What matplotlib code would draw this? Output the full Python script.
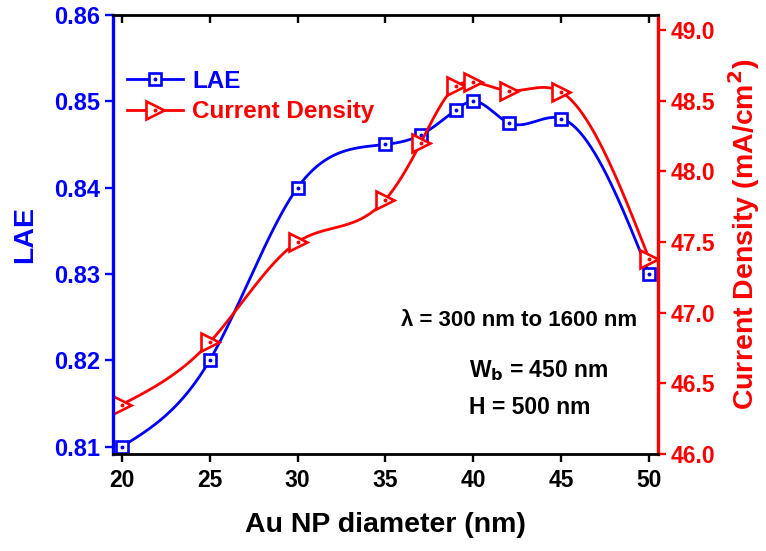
import numpy as np
import matplotlib
matplotlib.use("Agg")
import matplotlib.pyplot as plt
from matplotlib.lines import Line2D
from matplotlib.legend_handler import HandlerTuple

plt.rcParams["font.family"] = ["Liberation Sans", "DejaVu Sans"]
plt.rcParams["font.weight"] = "bold"

diameter = [20, 25, 30, 35, 37, 39, 40, 42, 45, 50]
lae = [0.810, 0.820, 0.840, 0.845, 0.8461, 0.849, 0.850, 0.8475, 0.848, 0.830]
current = [46.35, 46.79, 47.50, 47.80, 48.20, 48.60, 48.63, 48.57, 48.56, 47.38]

BLUE = "#0000ff"
RED = "#ff0000"


def natural_spline(x, y, n=400):
    # natural cubic spline, drawn through the measured points only
    x = np.asarray(x, float)
    y = np.asarray(y, float)
    k = len(x)
    h = np.diff(x)
    A = np.zeros((k, k))
    b = np.zeros(k)
    A[0, 0] = A[-1, -1] = 1
    for i in range(1, k - 1):
        A[i, i - 1] = h[i - 1]
        A[i, i] = 2 * (h[i - 1] + h[i])
        A[i, i + 1] = h[i]
        b[i] = 3 * ((y[i + 1] - y[i]) / h[i] - (y[i] - y[i - 1]) / h[i - 1])
    c = np.linalg.solve(A, b)
    xs = np.linspace(x[0], x[-1], n)
    idx = np.clip(np.searchsorted(x, xs) - 1, 0, k - 2)
    dx = xs - x[idx]
    bb = (y[idx + 1] - y[idx]) / h[idx] - h[idx] * (2 * c[idx] + c[idx + 1]) / 3
    dd = (c[idx + 1] - c[idx]) / (3 * h[idx])
    ys = y[idx] + bb * dx + c[idx] * dx ** 2 + dd * dx ** 3
    return xs, ys


fig = plt.figure(figsize=(7.66, 5.51), dpi=100)
ax = fig.add_axes([0.1475, 0.176, 0.7115, 0.797])
ax2 = ax.twinx()

LW = 2.0
sq = dict(ls="none", marker="s", ms=8.5, mfc="white", mec=BLUE, mew=1.9)
tri = dict(ls="none", marker=">", ms=13, mfc="white", mec=RED, mew=1.9)

xs, ys = natural_spline(diameter, lae)
ax.plot(xs, ys, color=BLUE, lw=LW)
ax.plot(diameter, lae, **sq)
ax.plot(diameter, lae, ls="none", marker="o", ms=1.8, color=BLUE)

xs, ys = natural_spline(diameter, current)
ax2.plot(xs, ys, color=RED, lw=LW)
ax2.plot(diameter, current, **tri)
ax2.plot(diameter, current, ls="none", marker="o", ms=1.8, color=RED)

ax.set_xlim(19.5, 50.5)
ax.set_ylim(0.80915, 0.86)
ax2.set_ylim(46.0, 49.106)
ax.set_xticks([20, 25, 30, 35, 40, 45, 50])
ax.set_yticks([0.81, 0.82, 0.83, 0.84, 0.85, 0.86])
rticks = [46.0, 46.5, 47.0, 47.5, 48.0, 48.5, 49.0]
ax2.set_yticks(rticks)
ax2.set_yticklabels([f"{v:.1f}" for v in rticks])

ax.tick_params(axis="x", direction="out", length=6, width=1.7,
               labelsize=16.5, top=False, pad=5)
ax.tick_params(axis="y", colors=BLUE, length=6, width=1.7, labelsize=17, pad=3)
ax2.tick_params(axis="y", colors=RED, length=6, width=1.7, labelsize=16.5, pad=3)
# top ticks pointing inward, drawn on the twin's x axis
ax2.xaxis.set_visible(True)
ax2.tick_params(axis="x", top=True, bottom=False, labelbottom=False, labeltop=False,
                direction="in", length=6, width=1.7)

for s in ("top", "bottom"):
    ax2.spines[s].set_linewidth(2.0)
    ax2.spines[s].set_color("black")
ax2.spines["left"].set_color(BLUE)
ax2.spines["left"].set_linewidth(2.4)
ax2.spines["right"].set_color(RED)
ax2.spines["right"].set_linewidth(2.4)
for s in ax.spines.values():
    s.set_visible(False)

ax.set_xlabel("Au NP diameter (nm)", fontsize=20.5, fontweight="bold", labelpad=14)
ax.set_ylabel("LAE", fontsize=20.5, fontweight="bold", color=BLUE, labelpad=12)
ax2.set_ylabel("Current Density (mA/cm$^\\mathbf{2}$)", fontsize=20.5,
               fontweight="bold", color=RED, labelpad=8)

h_lae = (Line2D([], [], color=BLUE, lw=LW, **{k: v for k, v in sq.items() if k != "ls"}),
         Line2D([], [], ls="none", marker="o", ms=1.8, color=BLUE))
h_cur = (Line2D([], [], color=RED, lw=LW, **{k: v for k, v in tri.items() if k != "ls"}),
         Line2D([], [], ls="none", marker="o", ms=1.8, color=RED))
leg = ax2.legend([h_lae, h_cur], ["LAE", "Current Density"],
                 handler_map={tuple: HandlerTuple(ndivide=1, pad=0)},
                 loc="upper left", bbox_to_anchor=(0.025, 0.875), frameon=False,
                 fontsize=17.5, handlelength=2.3, handletextpad=0.4, labelspacing=0.3,
                 borderaxespad=0, borderpad=0)
leg.get_texts()[0].set_color(BLUE)
leg.get_texts()[1].set_color(RED)

ax2.text(0.745, 0.305, "λ = 300 nm to 1600 nm", transform=ax2.transAxes,
         ha="center", va="center", fontsize=16, fontweight="bold")
ax2.text(0.653, 0.19, "W$_\\mathbf{b}$ = 450 nm", transform=ax2.transAxes,
         ha="left", va="center", fontsize=16.5, fontweight="bold")
ax2.text(0.653, 0.105, "H = 500 nm", transform=ax2.transAxes,
         ha="left", va="center", fontsize=16.5, fontweight="bold")

fig.savefig("out.png", dpi=100)
